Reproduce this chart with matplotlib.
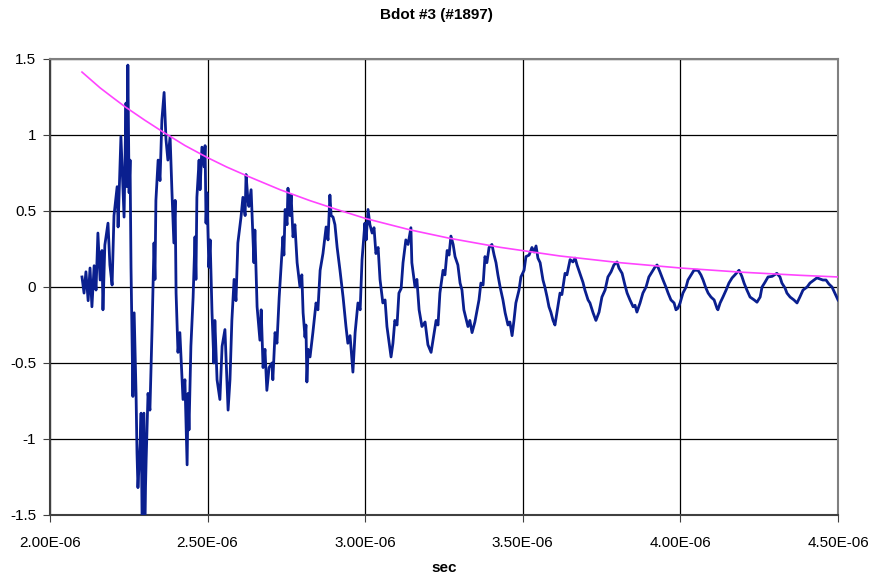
import matplotlib
matplotlib.use("Agg")
import matplotlib.pyplot as plt
import numpy as np

plt.rcParams['font.family'] = ['Liberation Sans', 'DejaVu Sans']

title = "Bdot #3 (#1897)"
xlabel = "sec"

# Signal (time in microseconds, value)
sig_t_us = [
    2.1015, 2.108, 2.114, 2.121, 2.127, 2.133, 2.140, 2.146, 2.152, 2.159,
    2.165, 2.168, 2.174, 2.184, 2.190, 2.197, 2.203, 2.213, 2.216, 2.225,
    2.235, 2.241, 2.244, 2.247, 2.251, 2.254, 2.257, 2.263, 2.267, 2.273,
    2.276, 2.279, 2.286, 2.289, 2.292, 2.298, 2.301, 2.305, 2.311, 2.317,
    2.324, 2.330, 2.333, 2.336, 2.343, 2.349, 2.355, 2.362, 2.368, 2.374,
    2.381, 2.387, 2.393, 2.397, 2.400, 2.406, 2.412, 2.422, 2.428, 2.435,
    2.438, 2.441, 2.447, 2.454, 2.460, 2.463, 2.466, 2.473, 2.476, 2.482,
    2.489, 2.492, 2.495, 2.498, 2.504, 2.508, 2.514, 2.520, 2.523, 2.530,
    2.539, 2.546, 2.555, 2.565, 2.571, 2.577, 2.584, 2.590, 2.596, 2.606,
    2.612, 2.619, 2.622, 2.628, 2.631, 2.638, 2.647, 2.650, 2.657, 2.666,
    2.670, 2.676, 2.682, 2.688, 2.695, 2.704, 2.707, 2.714, 2.720, 2.727,
    2.733, 2.739, 2.742, 2.746, 2.752, 2.755, 2.761, 2.765, 2.771, 2.777,
    2.784, 2.793, 2.799, 2.803, 2.809, 2.812, 2.815, 2.819, 2.825, 2.834,
    2.844, 2.850, 2.857, 2.866, 2.876, 2.882, 2.888, 2.892, 2.898, 2.904,
    2.911, 2.920, 2.930, 2.939, 2.945, 2.952, 2.961, 2.968, 2.977, 2.984,
    2.990, 2.999, 3.003, 3.009, 3.015, 3.022, 3.028, 3.034, 3.041, 3.047,
    3.056, 3.063, 3.069, 3.075, 3.082, 3.088, 3.094, 3.101, 3.107, 3.114,
    3.120, 3.129, 3.136, 3.145, 3.148, 3.158, 3.164, 3.171, 3.180, 3.190,
    3.199, 3.209, 3.215, 3.225, 3.231, 3.237, 3.247, 3.253, 3.260, 3.266,
    3.272, 3.279, 3.285, 3.294, 3.301, 3.307, 3.313, 3.326, 3.332, 3.339,
    3.348, 3.355, 3.361, 3.367, 3.374, 3.380, 3.386, 3.393, 3.402, 3.409,
    3.415, 3.421, 3.428, 3.437, 3.444, 3.453, 3.459, 3.466, 3.472, 3.478,
    3.488, 3.494, 3.504, 3.510, 3.520, 3.529, 3.536, 3.542, 3.548, 3.555,
    3.564, 3.570, 3.577, 3.583, 3.589, 3.596, 3.602, 3.608, 3.618, 3.624,
    3.634, 3.640, 3.650, 3.659, 3.666, 3.672, 3.681, 3.691, 3.697, 3.707,
    3.713, 3.723, 3.732, 3.742, 3.751, 3.761, 3.770, 3.780, 3.789, 3.799,
    3.805, 3.815, 3.824, 3.831, 3.840, 3.850, 3.856, 3.862, 3.872, 3.881,
    3.891, 3.900, 3.910, 3.919, 3.926, 3.935, 3.945, 3.954, 3.961, 3.970,
    3.980, 3.986, 3.992, 3.999, 4.008, 4.018, 4.024, 4.034, 4.043, 4.056,
    4.065, 4.072, 4.081, 4.088, 4.097, 4.107, 4.116, 4.119, 4.126, 4.135,
    4.145, 4.154, 4.164, 4.173, 4.186, 4.195, 4.202, 4.211, 4.221, 4.234,
    4.243, 4.253, 4.259, 4.268, 4.278, 4.291, 4.306, 4.316, 4.322, 4.332,
    4.338, 4.348, 4.360, 4.370, 4.379, 4.389, 4.402, 4.411, 4.424, 4.433,
    4.443, 4.452, 4.462, 4.471, 4.481, 4.490, 4.500,
]
sig_v = [
    0.066, -0.04, 0.10, -0.09, 0.125, -0.13, 0.14, -0.02, 0.355, 0.046,
    0.24, -0.15, 0.276, 0.42, 0.145, 0.013, 0.47, 0.66, 0.395, 0.99,
    0.46, 1.21, 0.66, 1.46, 0.62, 0.835, 0.13, -0.72, -0.17, -0.70,
    -1.09, -1.32, -1.03, -0.83, -1.50, -0.83, -1.50, -1.14, -0.70, -0.81,
    -0.26, 0.29, 0.05, 0.57, 0.835, 0.70, 1.10, 1.28, 0.97, 0.835,
    0.99, 0.62, 0.29, 0.57, -0.04, -0.43, -0.30, -0.74, -0.61, -1.17,
    -0.70, -0.94, -0.39, -0.07, 0.33, 0.05, 0.59, 0.835, 0.64, 0.92,
    0.79, 0.93, 0.42, 0.62, 0.13, 0.31, -0.17, -0.50, -0.22, -0.61,
    -0.74, -0.39, -0.28, -0.81, -0.61, -0.22, 0.05, -0.09, 0.29, 0.46,
    0.59, 0.47, 0.74, 0.57, 0.53, 0.64, 0.16, 0.375, -0.13, -0.35,
    -0.15, -0.53, -0.41, -0.68, -0.53, -0.50, -0.61, -0.30, -0.37, -0.07,
    0.13, 0.33, 0.21, 0.51, 0.41, 0.65, 0.47, 0.605, 0.33, 0.41,
    0.16, 0.0, 0.08, -0.17, -0.33, -0.25, -0.625, -0.41, -0.46, -0.30,
    -0.105, -0.15, 0.11, 0.22, 0.395, 0.31, 0.605, 0.47, 0.46, 0.41,
    0.26, 0.11, -0.07, -0.26, -0.37, -0.32, -0.56, -0.30, -0.105, -0.15,
    0.18, 0.42, 0.31, 0.51, 0.41, 0.355, 0.39, 0.22, 0.26, 0.05,
    -0.105, -0.085, -0.26, -0.35, -0.46, -0.37, -0.22, -0.25, -0.04, -0.01,
    0.16, 0.31, 0.28, 0.39, 0.16, 0.0, 0.05, -0.15, -0.26, -0.23,
    -0.38, -0.43, -0.35, -0.22, -0.25, -0.04, 0.11, 0.08, 0.24, 0.21,
    0.335, 0.28, 0.20, 0.145, 0.026, -0.02, -0.15, -0.26, -0.22, -0.30,
    -0.23, -0.15, -0.085, 0.026, 0.013, 0.20, 0.16, 0.26, 0.28, 0.21,
    0.16, 0.08, 0.0, -0.085, -0.17, -0.25, -0.23, -0.32, -0.22, -0.105,
    -0.02, 0.066, 0.11, 0.20, 0.21, 0.26, 0.23, 0.27, 0.19, 0.16,
    0.046, 0.0, -0.066, -0.13, -0.165, -0.22, -0.25, -0.17, -0.04, -0.05,
    0.09, 0.08, 0.18, 0.165, 0.19, 0.145, 0.09, 0.03, -0.02, -0.085,
    -0.105, -0.17, -0.22, -0.165, -0.066, -0.02, 0.066, 0.10, 0.145, 0.165,
    0.125, 0.09, 0.013, -0.04, -0.085, -0.13, -0.12, -0.165, -0.105, -0.04,
    0.0, 0.066, 0.10, 0.13, 0.145, 0.10, 0.046, 0.0, -0.04, -0.085,
    -0.105, -0.15, -0.14, -0.105, -0.04, 0.0, 0.046, 0.08, 0.11, 0.11,
    0.08, 0.046, -0.007, -0.04, -0.066, -0.085, -0.14, -0.15, -0.105, -0.066,
    -0.02, 0.026, 0.06, 0.08, 0.11, 0.07, 0.026, -0.02, -0.066, -0.085,
    -0.10, -0.066, 0.0, 0.03, 0.066, 0.07, 0.09, 0.066, 0.026, -0.007,
    -0.04, -0.066, -0.085, -0.105, -0.066, -0.02, 0.0, 0.026, 0.046, 0.06,
    0.053, 0.046, 0.046, 0.02, 0.0, -0.04, -0.085,
]

# Envelope (magenta) curve
env_t_us = [2.1015, 2.159, 2.200, 2.238, 2.301, 2.3585, 2.428, 2.498, 2.560,
            2.625, 2.730, 2.825, 2.910, 3.0025, 3.142, 3.269, 3.428, 3.618,
            3.808, 4.000, 4.189, 4.379, 4.500]
env_v = [1.414, 1.310, 1.245, 1.186, 1.097, 1.020, 0.931, 0.853, 0.790,
         0.731, 0.640, 0.568, 0.510, 0.450, 0.376, 0.320, 0.261, 0.204,
         0.160, 0.125, 0.098, 0.077, 0.066]

x_ticks = [2.0e-6, 2.5e-6, 3.0e-6, 3.5e-6, 4.0e-6, 4.5e-6]
x_tick_labels = ["2.00E-06", "2.50E-06", "3.00E-06", "3.50E-06", "4.00E-06", "4.50E-06"]
y_ticks = [-1.5, -1.0, -0.5, 0.0, 0.5, 1.0, 1.5]
y_tick_labels = ["-1.5", "-1", "-0.5", "0", "0.5", "1", "1.5"]

fig = plt.figure(figsize=(8.77, 5.76), dpi=100)
ax = fig.add_axes([50/877, 61/576, 788/877, 456/576])

ax.plot(np.array(sig_t_us) * 1e-6, sig_v, color='#0a1f8f', lw=2.0, zorder=3)
ax.plot(np.array(env_t_us) * 1e-6, env_v, color='#ff44ff', lw=1.2, zorder=4)

ax.set_xlim(2.0e-6, 4.5e-6)
ax.set_ylim(-1.5, 1.5)
ax.set_xticks(x_ticks)
ax.set_xticklabels(x_tick_labels)
ax.set_yticks(y_ticks)
ax.set_yticklabels(y_tick_labels)
ax.grid(True, color='black', lw=0.9)
ax.set_axisbelow(True)
for name, s in ax.spines.items():
    s.set_color('#808080' if name in ('top', 'right') else '#404040')
    s.set_linewidth(1.5)
ax.tick_params(axis='both', direction='out', length=5, color='#404040',
               labelsize=11, pad=5)
ax.tick_params(axis='x', pad=10)

ax.set_xlabel(xlabel, fontsize=11, fontweight='bold', labelpad=8)
fig.text(0.498, 0.974, title, ha='center', va='center', fontsize=11, fontweight='bold')

fig.savefig("out.png", dpi=100)
